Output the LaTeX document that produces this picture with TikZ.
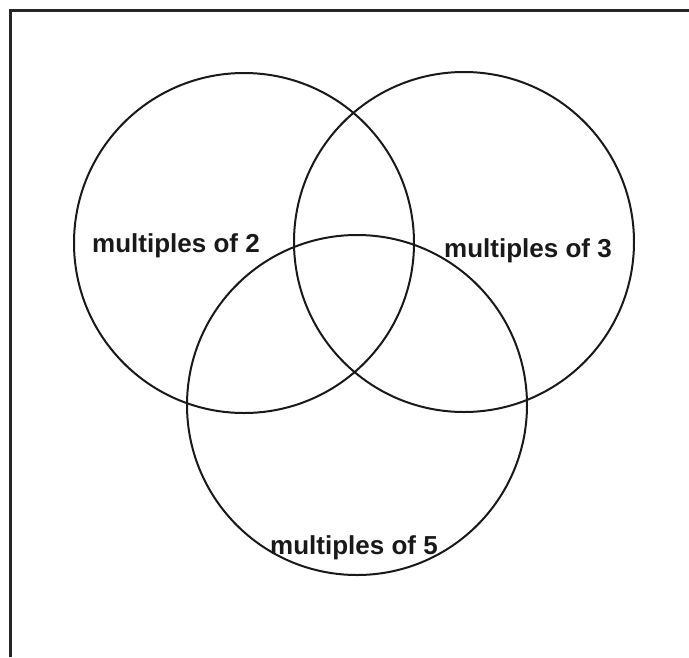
\documentclass[tikz,border=0pt]{standalone}
\usepackage{fontspec}
\setmainfont{Liberation Sans}
\begin{document}
\begin{tikzpicture}[x=1pt,y=-1pt,
  setcircle/.style={draw=black!90,line width=2pt,circle,minimum size=340pt,inner sep=0pt},
  setlabel/.style={font=\fontsize{26}{30}\selectfont\bfseries,text=black!90,inner sep=0pt}]
\useasboundingbox (0,0) rectangle (689,657);
\coordinate (fbl) at (10.5,657);
\coordinate (ftl) at (10.5,10.5);
\coordinate (ftr) at (689,10.5);
\draw[line width=3pt,draw=black!85] (fbl) -- (ftl) -- (ftr);
\node[setcircle] (c2) at (244,243) {};
\node[setcircle] (c3) at (464,242) {};
\node[setcircle,minimum size=340pt] (c5) at (357,405) {};
\node[setlabel] (l2) at (176,246) {multiples of 2};
\node[setlabel] (l3) at (528,251) {multiples of 3};
\node[setlabel] (l5) at (354,548) {multiples of 5};
\end{tikzpicture}
\end{document}
